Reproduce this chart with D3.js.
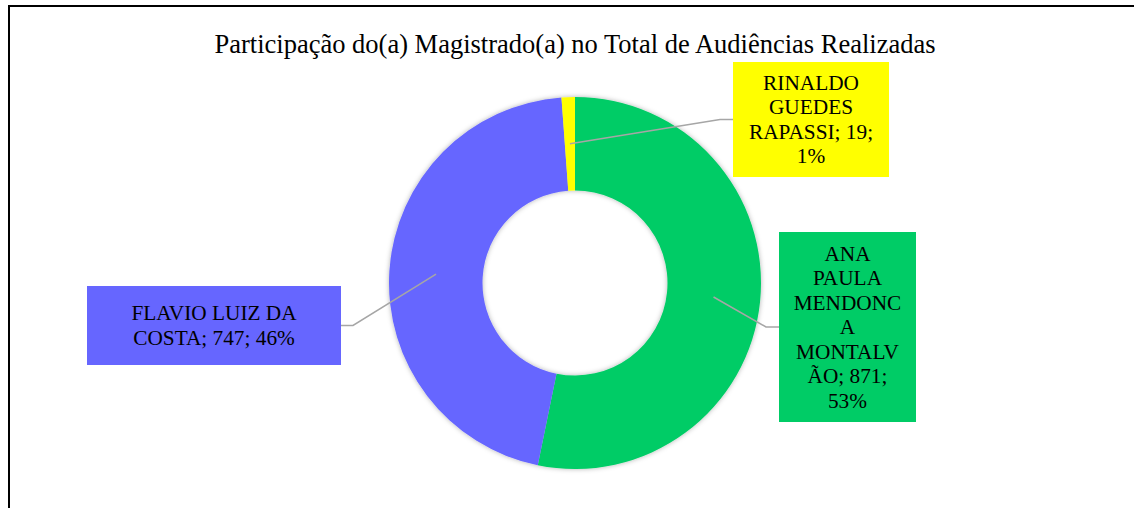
<!DOCTYPE html>
<html>
<head>
<meta charset="utf-8">
<script src="https://cdn.jsdelivr.net/npm/d3@7"></script>
<style>
  body { margin: 0; background: #fff; }
  text { font-family: "Liberation Serif", "Times New Roman", serif; }
</style>
</head>
<body>
<svg></svg>
<script>

var names = ["ANA PAULA MENDONCA MONTALVÃO", "FLAVIO LUIZ DA COSTA", "RINALDO GUEDES RAPASSI"];
var values = [871, 747, 19];
var colors = ["#00CC66", "#6666FF", "#FFFF00"];
var title = "Participação do(a) Magistrado(a) no Total de Audiências Realizadas";

// label boxes (placed by hand, like in the original sheet)
var boxes = [
    { x: 779, y: 232, w: 137, h: 190, wrap: 112, side: "left" },
    { x: 87,  y: 286, w: 254, h: 79,  wrap: 185, side: "right" },
    { x: 733, y: 62,  w: 156, h: 115, wrap: 138, side: "left" }
];

var width = 1134, height = 508;
var cx = 575, cy = 283;
var outerR = 186, innerR = 92.5;
var fontSize = 21.3, lineH = 24.5;

var svg = d3.select("svg")
    .attr("width", width)
    .attr("height", height);

svg.append("rect")
    .attr("width", width)
    .attr("height", height)
    .attr("fill", "white");

// frame (top + left only visible)
svg.append("line")
    .attr("x1", 8).attr("y1", 6).attr("x2", width).attr("y2", 6)
    .style("stroke", "black").style("stroke-width", 2);
svg.append("line")
    .attr("x1", 9).attr("y1", 5).attr("x2", 9).attr("y2", height)
    .style("stroke", "black").style("stroke-width", 2);

svg.append("text")
    .attr("x", cx)
    .attr("y", 53)
    .attr("text-anchor", "middle")
    .style("font-size", "26.5px")
    .attr("fill", "black")
    .text(title);

var defs = svg.append("defs");
var f = defs.append("filter").attr("id", "shadow")
    .attr("x", "-20%").attr("y", "-20%").attr("width", "140%").attr("height", "140%");
f.append("feDropShadow")
    .attr("dx", 0).attr("dy", 0)
    .attr("stdDeviation", 2.5)
    .attr("flood-color", "#000")
    .attr("flood-opacity", 0.3);

var total = d3.sum(values);
var data = names.map(function(n, i) { return { name: n, value: values[i], color: colors[i] }; });

var pie = d3.pie().sort(null).value(function(d) { return d.value; });
var arc = d3.arc().innerRadius(innerR).outerRadius(outerR);
var mid = d3.arc().innerRadius((innerR + outerR) / 2).outerRadius((innerR + outerR) / 2);

var arcs = pie(data);

var g = svg.append("g")
    .attr("transform", "translate(" + cx + "," + cy + ")");

g.append("g")
    .attr("filter", "url(#shadow)")
    .selectAll("path")
    .data(arcs)
    .enter().append("path")
    .attr("d", arc)
    .attr("fill", function(d) { return d.data.color; });

// leader lines
arcs.forEach(function(d, i) {
    var b = boxes[i];
    var p = mid.centroid(d);
    var sx = cx + p[0], sy = cy + p[1];
    var my = b.y + b.h / 2;
    var ex = b.side === "left" ? b.x : b.x + b.w;
    var kx = b.side === "left" ? ex - 13 : ex + 12;
    svg.append("polyline")
        .attr("points", sx + "," + sy + " " + kx + "," + my + " " + ex + "," + my)
        .attr("fill", "none")
        .style("stroke", "#A6A6A6")
        .style("stroke-width", 1.5);
});

// wrap text like excel does (breaks inside long words too)
var measure = svg.append("text").style("font-size", fontSize + "px").attr("visibility", "hidden");
function textW(s) { measure.text(s); return measure.node().getComputedTextLength(); }

function wrap(str, maxW) {
    var words = str.split(" ");
    var lines = [], cur = "";
    words.forEach(function(w) {
        var test = cur ? cur + " " + w : w;
        if (textW(test) <= maxW) { cur = test; return; }
        if (cur) lines.push(cur);
        cur = "";
        while (textW(w) > maxW) {
            var k = w.length;
            while (k > 1 && textW(w.slice(0, k)) > maxW) k--;
            lines.push(w.slice(0, k));
            w = w.slice(k);
        }
        cur = w;
    });
    if (cur) lines.push(cur);
    return lines;
}

arcs.forEach(function(d, i) {
    var b = boxes[i];
    svg.append("rect")
        .attr("x", b.x).attr("y", b.y)
        .attr("width", b.w).attr("height", b.h)
        .attr("fill", d.data.color);

    var pct = Math.round(d.data.value / total * 100) + "%";
    var label = d.data.name + "; " + d.data.value + "; " + pct;
    var lines = wrap(label, b.wrap);
    var y0 = b.y + b.h / 2 - (lines.length - 1) * lineH / 2 + 7;

    var t = svg.append("text")
        .attr("text-anchor", "middle")
        .style("font-size", fontSize + "px")
        .attr("fill", "black");
    lines.forEach(function(l, j) {
        t.append("tspan")
            .attr("x", b.x + b.w / 2)
            .attr("y", y0 + j * lineH)
            .text(l);
    });
});

measure.remove();

</script>
</body>
</html>
